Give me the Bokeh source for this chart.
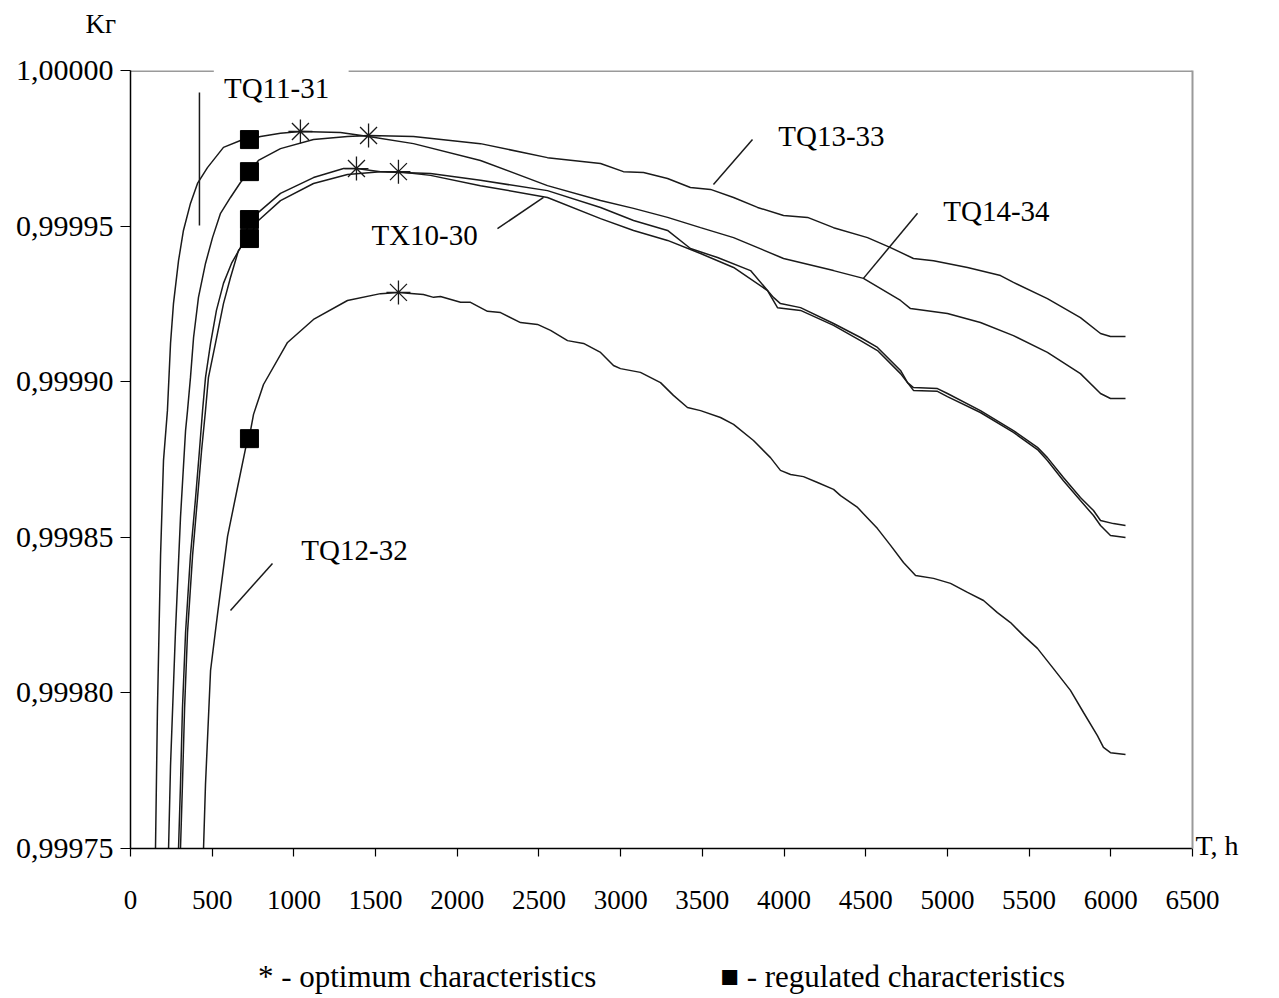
from bokeh.plotting import figure
from bokeh.models import (Range1d, FixedTicker, CustomJSTickFormatter, Label, Title, LinearAxis)
from bokeh.embed import file_html
from bokeh.resources import INLINE

# ---------------- data (T in hours, Kг) ----------------
tq11_x = [153, 165, 184, 202, 226, 245, 263, 294, 324, 367, 410, 471, 569, 673, 728, 796, 918, 1040, 1285, 1457,
          1732, 2142, 2552, 2877, 3079, 3287, 3489, 3691, 3997, 4303, 4486, 4713, 4774, 5000, 5202, 5404, 5612,
          5814, 5937, 5998, 6090]
tq11_y = [0.99975, 0.999795, 0.9998442, 0.9998747, 0.9998907, 0.9999123, 0.9999251, 0.9999389, 0.9999486,
          0.9999573, 0.9999637, 0.9999688, 0.9999753, 0.9999775, 0.9999778, 0.9999788, 0.9999798, 0.9999804,
          0.9999801, 0.9999788, 0.9999765, 0.9999711, 0.999963, 0.9999582, 0.9999557, 0.9999528, 0.9999495,
          0.9999463, 0.9999396, 0.9999357, 0.9999332, 0.9999261, 0.9999235, 0.9999219, 0.999919, 0.9999148,
          0.9999094, 0.9999026, 0.9998962, 0.9998946, 0.9998946]

tq13_x = [233, 245, 275, 306, 337, 349, 367, 386, 416, 459, 502, 551, 612, 673, 728, 783, 918, 1120, 1328, 1457,
          1732, 2142, 2552, 2877, 3017, 3140, 3287, 3427, 3550, 3691, 3838, 3997, 4144, 4303, 4511, 4652, 4792,
          4915, 5123, 5325, 5404, 5612, 5814, 5937, 5998, 6090]
tq13_y = [0.99975, 0.9997767, 0.9998194, 0.9998564, 0.9998843, 0.9998907, 0.9999013, 0.9999142, 0.9999271,
          0.999938, 0.9999463, 0.9999541, 0.9999592, 0.999964, 0.9999675, 0.9999711, 0.9999749, 0.9999778,
          0.9999788, 0.9999791, 0.9999788, 0.9999765, 0.999972, 0.9999701, 0.9999675, 0.9999672, 0.9999653,
          0.9999624, 0.9999618, 0.9999592, 0.999956, 0.9999534, 0.9999528, 0.9999495, 0.9999463, 0.9999431,
          0.9999396, 0.9999389, 0.9999367, 0.9999341, 0.9999319, 0.9999267, 0.9999206, 0.9999155, 0.9999145,
          0.9999145]

tx10a_x = [294, 306, 318, 337, 367, 398, 422, 441, 459, 490, 526, 569, 618, 673, 728, 783, 918, 1120, 1304, 1383,
           1530, 1836, 2142, 2552, 2877, 3079, 3287, 3427, 3593, 3795, 3935, 3978, 4101, 4303, 4468, 4572, 4713,
           4756, 4792, 4939, 5000, 5202, 5404, 5551, 5612, 5710, 5814, 5894, 5937, 6016, 6090]
tx10a_y = [0.99975, 0.9997706, 0.999795, 0.9998194, 0.9998442, 0.9998625, 0.9998779, 0.9998907, 0.9999013,
           0.9999123, 0.9999229, 0.9999316, 0.999938, 0.9999431, 0.9999512, 0.9999544, 0.9999605, 0.9999656,
           0.9999685, 0.9999685, 0.9999675, 0.9999669, 0.9999647, 0.9999614, 0.999956, 0.9999518, 0.9999486,
           0.9999428, 0.9999399, 0.9999357, 0.9999271, 0.9999251, 0.9999238, 0.9999187, 0.9999142, 0.999911,
           0.9999036, 0.9998997, 0.9998981, 0.9998978, 0.9998962, 0.9998907, 0.9998843, 0.9998789, 0.9998756,
           0.9998692, 0.9998628, 0.9998586, 0.9998554, 0.9998544, 0.9998538]

tx10b_x = [306, 318, 331, 349, 380, 410, 435, 459, 477, 520, 569, 612, 661, 728, 783, 918, 1120, 1328, 1530, 1640,
           1836, 2142, 2552, 2877, 3079, 3287, 3489, 3691, 3899, 3960, 4101, 4303, 4468, 4572, 4713, 4792, 4939,
           5000, 5202, 5404, 5551, 5612, 5710, 5814, 5894, 5937, 5998, 6090]
tx10b_y = [0.99975, 0.9997706, 0.999795, 0.9998194, 0.9998442, 0.9998625, 0.9998779, 0.9998907, 0.9999013,
           0.9999123, 0.9999251, 0.9999335, 0.9999422, 0.9999467, 0.9999518, 0.9999582, 0.9999637, 0.9999666,
           0.9999675, 0.9999675, 0.9999663, 0.999963, 0.9999592, 0.9999524, 0.9999486, 0.9999454, 0.9999412,
           0.9999367, 0.9999293, 0.9999238, 0.9999229, 0.9999181, 0.9999132, 0.99991, 0.9999026, 0.9998972,
           0.9998969, 0.9998952, 0.9998901, 0.9998837, 0.9998782, 0.9998747, 0.9998682, 0.9998618, 0.999857,
           0.9998538, 0.9998506, 0.9998499]

tq12_x = [447, 459, 490, 533, 594, 655, 704, 728, 753, 814, 961, 1120, 1328, 1530, 1640, 1793, 1855, 1897, 2020,
          2081, 2185, 2265, 2387, 2491, 2571, 2675, 2773, 2877, 2956, 2999, 3121, 3244, 3323, 3409, 3489, 3611,
          3691, 3813, 3917, 3978, 4040, 4119, 4205, 4303, 4346, 4450, 4486, 4572, 4652, 4731, 4805, 4915, 5019,
          5123, 5221, 5306, 5386, 5466, 5551, 5649, 5753, 5833, 5918, 5955, 5998, 6090]
tq12_y = [0.99975, 0.9997706, 0.9998072, 0.9998255, 0.9998503, 0.999866, 0.9998785, 0.9998824, 0.9998895,
          0.9998991, 0.9999126, 0.99992, 0.9999261, 0.9999283, 0.9999287, 0.999928, 0.9999271, 0.9999274,
          0.9999255, 0.9999255, 0.9999226, 0.9999222, 0.999919, 0.9999184, 0.9999165, 0.9999132, 0.9999123,
          0.9999094, 0.9999052, 0.9999042, 0.999903, 0.9998997, 0.9998956, 0.9998917, 0.9998907, 0.9998885,
          0.9998863, 0.9998811, 0.9998756, 0.9998715, 0.9998702, 0.9998695, 0.9998676, 0.9998654, 0.9998634,
          0.9998596, 0.9998576, 0.9998528, 0.9998474, 0.9998419, 0.9998377, 0.9998368, 0.9998352, 0.9998323,
          0.9998297, 0.9998258, 0.9998226, 0.9998184, 0.9998143, 0.9998078, 0.9998008, 0.9997937, 0.9997863,
          0.9997825, 0.9997808, 0.9997802]

# optimum (*) and regulated (square) characteristics
opt_x = [1040, 1457, 1383, 1640, 1640]
opt_y = [0.9999804, 0.9999791, 0.9999685, 0.9999675, 0.9999287]
reg_x = [728, 728, 728, 728, 728]
reg_y = [0.9999778, 0.9999675, 0.9999521, 0.9999460, 0.9998817]

x_ticks = [0, 500, 1000, 1500, 2000, 2500, 3000, 3500, 4000, 4500, 5000, 5500, 6000, 6500]
y_ticks = [0.99975, 0.99980, 0.99985, 0.99990, 0.99995, 1.00000]
x_title = "T, h"
x_title_at = [0.999751]
y_title = "Kг"

# curve labels with leader lines
lab_text = ["TQ11-31", "TQ13-33", "TQ14-34", "TX10-30", "TQ12-32"]
lab_x = [894, 4290, 5300, 1800, 1371]
lab_y = [0.9999945, 0.9999788, 0.9999547, 0.9999470, 0.9998458]
lead_x0 = [422, 3568, 4486, 2246, 612]
lead_y0 = [0.9999502, 0.9999634, 0.9999332, 0.9999492, 0.9998265]
lead_x1 = [422, 3807, 4817, 2528, 869]
lead_y1 = [0.9999929, 0.9999778, 0.9999541, 0.9999592, 0.9998416]

FONT = "Liberation Serif"
INK = "#1a1a1a"
GREY = "#9a9a9a"

p = figure(width=1279, height=998, output_backend="svg", toolbar_location=None,
           x_range=Range1d(0, 6500), y_range=Range1d(0.99975, 1.0),
           min_border_left=130, min_border_right=87, min_border_top=70, min_border_bottom=150)
p.background_fill_color = "white"
p.border_fill_color = "white"
p.outline_line_color = None
p.xgrid.visible = False
p.ygrid.visible = False

# axes
p.xaxis.ticker = FixedTicker(ticks=x_ticks)
p.yaxis.ticker = FixedTicker(ticks=y_ticks)
p.yaxis.formatter = CustomJSTickFormatter(code="return tick.toFixed(5).replace('.', ',');")
for ax in (p.xaxis[0], p.yaxis[0]):
    ax.axis_line_color = "black"
    ax.axis_line_width = 1.5
    ax.major_tick_line_color = "black"
    ax.major_tick_line_width = 1.2
    ax.major_tick_in = 0
    ax.minor_tick_line_color = None
    ax.major_label_text_font = FONT
    ax.major_label_text_color = "black"
p.xaxis.major_label_text_font_size = "27px"
p.yaxis.major_label_text_font_size = "30px"
p.xaxis.major_tick_out = 8
p.xaxis.major_label_standoff = 34
p.yaxis.major_tick_out = 10
p.yaxis.major_label_standoff = 7

# right axis: grey right border of the frame, carrying the "T, h" title at the level of the x axis
rax = LinearAxis(ticker=FixedTicker(ticks=x_title_at),
                 formatter=CustomJSTickFormatter(code="return '%s';" % x_title))
rax.axis_line_color = GREY
rax.axis_line_width = 2
rax.major_tick_line_color = None
rax.major_tick_in = 0
rax.major_tick_out = 0
rax.minor_tick_line_color = None
rax.major_label_standoff = 3
rax.major_label_text_font = FONT
rax.major_label_text_font_size = "28px"
rax.major_label_text_color = "black"
p.add_layout(rax, "right")

# top border (grey, broken by the TQ11-31 label)
p.segment(x0=[0, 1335], y0=[1.0, 1.0], x1=[510, 6500], y1=[1.0, 1.0], line_color=GREY, line_width=3)

# curves
for xs, ys in [(tq11_x, tq11_y), (tq13_x, tq13_y), (tx10a_x, tx10a_y), (tx10b_x, tx10b_y), (tq12_x, tq12_y)]:
    p.line(xs, ys, line_color=INK, line_width=1.5)

# markers
p.scatter(reg_x, reg_y, marker="square", size=18, fill_color="black", line_color="black")
p.scatter(opt_x, opt_y, marker="asterisk", size=24, line_color=INK, line_width=1.3)

# leaders and labels
p.segment(x0=lead_x0, y0=lead_y0, x1=lead_x1, y1=lead_y1, line_color=INK, line_width=1.5)
for t, x, y in zip(lab_text, lab_x, lab_y):
    p.add_layout(Label(x=x, y=y, text=t, text_font=FONT, text_font_size="29px", text_color="black",
                       text_align="center", text_baseline="middle"))

# y title at the top-left corner (spacer row + title row in the top panel)
p.add_layout(Title(text="\u00a0", text_font_size="1px", standoff=29), "above")
p.add_layout(Title(text=y_title, text_font=FONT, text_font_size="27px", text_font_style="normal",
                   text_color="black", align="left", offset=-45, standoff=0,
                   vertical_align="bottom"), "above")

# legend line at the bottom (spacer row + text row in the bottom panel)
gap = "\u00a0" * 16
p.add_layout(Title(text="\u00a0", text_font_size="1px", standoff=44), "below")
p.add_layout(Title(text="*\u00a0- optimum characteristics" + gap + "\u25a0 - regulated characteristics",
                   text_font=FONT, text_font_size="31px", text_font_style="normal", text_color="black",
                   align="center", standoff=0, vertical_align="top"), "below")

open("out.html", "w").write(file_html(p, INLINE))
